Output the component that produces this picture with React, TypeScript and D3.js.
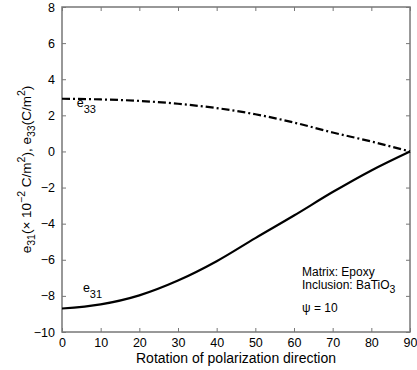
import React, { useRef, useEffect } from "react";
import * as d3 from "d3";

// rotation angles (degrees)
const angles = [0, 10, 20, 30, 40, 50, 60, 70, 80, 90];
// e31 (x 10^-2 C/m^2)
const e31 = [-8.7, -8.47, -7.97, -7.15, -6.08, -4.8, -3.55, -2.25, -1.05, 0.0];
// e33 (C/m^2)
const e33 = [2.92, 2.88, 2.8, 2.64, 2.4, 2.06, 1.6, 1.05, 0.55, 0.0];
const xTicks = [0, 10, 20, 30, 40, 50, 60, 70, 80, 90];
const yTicks = [-10, -8, -6, -4, -2, 0, 2, 4, 6, 8];

const W = 417;
const H = 370;
const margin = { top: 7, right: 7, bottom: 38, left: 62 };
const font = "'Liberation Sans', Arial, Helvetica, sans-serif";

function Chart() {
  const svgRef = useRef<SVGSVGElement>(null);

  useEffect(() => {
    const svg = d3.select(svgRef.current);
    svg.selectAll("*").remove();

    const x = d3.scaleLinear().domain([0, 90]).range([margin.left, W - margin.right]);
    const y = d3.scaleLinear().domain([-10, 8]).range([H - margin.bottom, margin.top]);
    const axisColor = "#777";

    // white background + box frame
    svg.append("rect").attr("width", W).attr("height", H).attr("fill", "#fff");
    svg
      .append("rect")
      .attr("x", x(0))
      .attr("y", y(8))
      .attr("width", x(90) - x(0))
      .attr("height", y(-10) - y(8))
      .attr("fill", "none")
      .attr("stroke", axisColor)
      .attr("stroke-width", 1.5);

    // inward ticks on all sides
    const tickLen = 4;
    const styleAxis = (g: any) => {
      g.select(".domain").remove();
      g.selectAll(".tick line").attr("stroke", axisColor);
      g.selectAll(".tick text")
        .attr("fill", "#000")
        .style("font-family", font)
        .style("font-size", "12.5px");
    };

    svg
      .append("g")
      .attr("transform", `translate(0,${y(-10)})`)
      .call(
        d3.axisBottom(x).tickValues(xTicks).tickSize(-tickLen).tickPadding(6).tickFormat(d3.format("d"))
      )
      .call(styleAxis);
    svg
      .append("g")
      .attr("transform", `translate(0,${y(8)})`)
      .call(d3.axisTop(x).tickValues(xTicks).tickSize(-tickLen).tickFormat(() => ""))
      .call(styleAxis);
    svg
      .append("g")
      .attr("transform", `translate(${x(0)},0)`)
      .call(
        d3
          .axisLeft(y)
          .tickValues(yTicks)
          .tickSize(-tickLen)
          .tickPadding(7)
          .tickFormat((d: any) => (d < 0 ? "\u2212" + Math.abs(d) : String(d)))
      )
      .call(styleAxis);
    svg
      .append("g")
      .attr("transform", `translate(${x(90)},0)`)
      .call(d3.axisRight(y).tickValues(yTicks).tickSize(-tickLen).tickFormat(() => ""))
      .call(styleAxis);

    const line = d3
      .line<number>()
      .x((_, i) => x(angles[i]))
      .y((d) => y(d))
      .curve(d3.curveMonotoneX);

    svg
      .append("path")
      .datum(e31)
      .attr("d", line)
      .attr("fill", "none")
      .attr("stroke", "#000")
      .attr("stroke-width", 2.2);

    svg
      .append("path")
      .datum(e33)
      .attr("d", line)
      .attr("fill", "none")
      .attr("stroke", "#000")
      .attr("stroke-width", 2.2)
      .attr("stroke-dasharray", "8,3,2,3");

    const addLabel = (px: number, py: number, main: string, sub: string) => {
      const t = svg
        .append("text")
        .attr("x", px)
        .attr("y", py)
        .style("font-family", font)
        .style("font-size", "12.5px");
      t.append("tspan").text(main);
      t.append("tspan").attr("dy", 6).style("font-size", "11px").text(sub);
    };
    addLabel(x(3.8), y(2.45), "e", "33");
    addLabel(x(5.4), y(-7.8), "e", "31");

    // annotation
    const ann = svg
      .append("g")
      .style("font-family", font)
      .style("font-size", "12px");
    ann.append("text").attr("x", 302).attr("y", 276).text("Matrix: Epoxy");
    const inc = ann.append("text").attr("x", 302).attr("y", 289);
    inc.append("tspan").text("Inclusion: BaTiO");
    inc.append("tspan").attr("dy", 4).style("font-size", "10.5px").text("3");
    ann.append("text").attr("x", 302).attr("y", 312).text("\u03c8 = 10");

    // x axis title
    svg
      .append("text")
      .attr("x", (x(0) + x(90)) / 2)
      .attr("y", 363)
      .attr("text-anchor", "middle")
      .style("font-family", font)
      .style("font-size", "14px")
      .text("Rotation of polarization direction");

    // y axis title
    const yl = svg
      .append("text")
      .attr("transform", `translate(31,${(y(8) + y(-10)) / 2}) rotate(-90)`)
      .attr("text-anchor", "middle")
      .style("font-family", font)
      .style("font-size", "13.5px");
    const sub = (s: string) => yl.append("tspan").attr("dy", 4).style("font-size", "10.5px").text(s);
    const sup = (s: string) => yl.append("tspan").attr("dy", -6).style("font-size", "10.5px").text(s);
    const norm = (s: string, dy: number) => yl.append("tspan").attr("dy", dy).text(s);
    norm("e", 0);
    sub("31");
    norm("(\u00d7 10", -4);
    sup("\u22122");
    norm(" C/m", 6);
    sup("2");
    norm("), e", 6);
    sub("33");
    norm("(C/m", -4);
    sup("2");
    norm(")", 6);
  }, []);

  return (
    <svg
      ref={svgRef}
      width={W}
      height={H}
      style={{ position: "absolute", left: 0, top: 0, display: "block" }}
    />
  );
}

export default function App() {
  return <Chart />;
}
